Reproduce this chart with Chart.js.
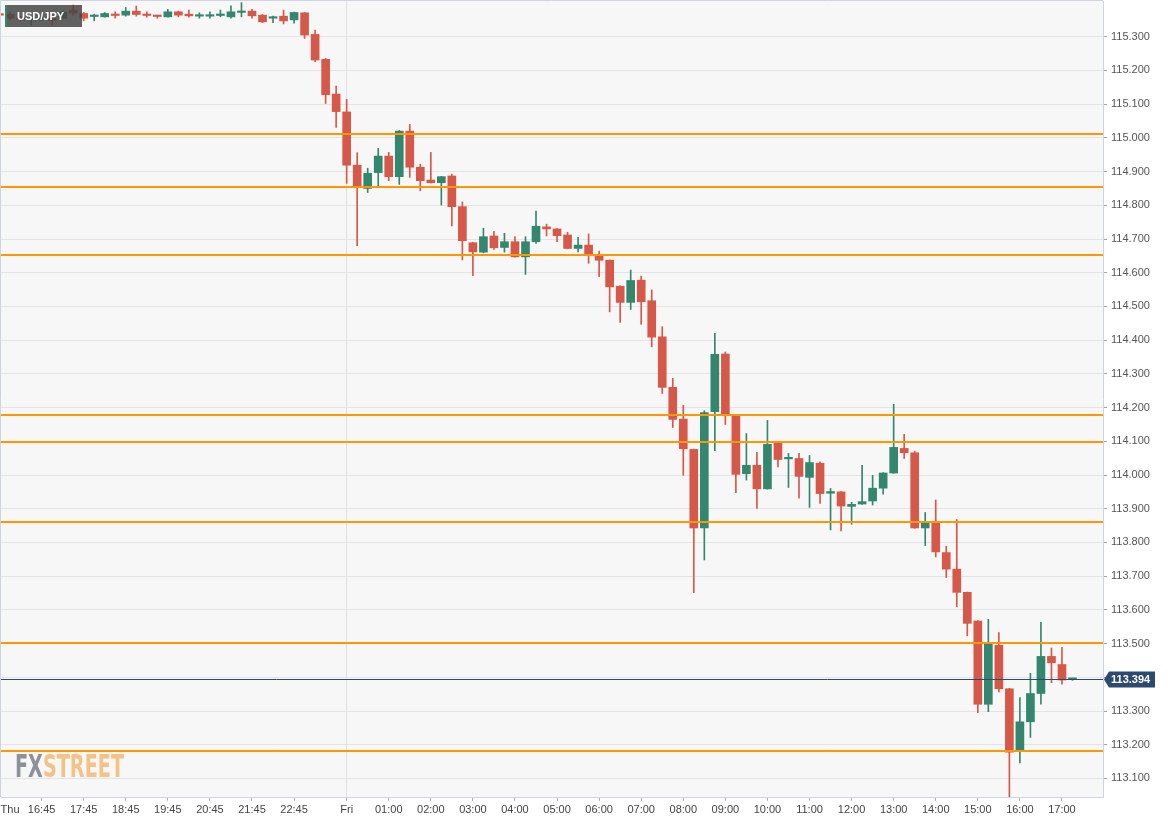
<!DOCTYPE html>
<html>
<head>
  <title>USD/JPY 15m</title>
  <script src="https://cdn.jsdelivr.net/npm/chart.js"></script>
  <style>
    html, body { margin: 0; padding: 0; background: #fff; overflow: hidden; }
  </style>
</head>
<body>
  <canvas id="myChart" width="1174" height="823"></canvas>

  <script>
    // 15-minute candles, slot 0 = Fri 00:00, slot -33 = Thu 15:45
    const firstSlot = -33;

    const open = [115.368, 115.367, 115.356, 115.350, 115.352, 115.355, 115.355, 115.379, 115.369, 115.360,
      115.359, 115.365, 115.364, 115.376, 115.365, 115.362, 115.359, 115.374, 115.367, 115.361,
      115.361, 115.363, 115.359, 115.372, 115.376, 115.364, 115.355, 115.361, 115.350, 115.371,
      115.307, 115.233, 115.130,
      115.077, 114.919, 114.850, 114.897, 114.946, 114.885, 115.020, 114.913, 114.875, 114.867,
      114.887, 114.796, 114.689, 114.661, 114.709, 114.675, 114.692, 114.647, 114.692, 114.736,
      114.730, 114.712, 114.672, 114.682, 114.652, 114.637, 114.560, 114.512, 114.578, 114.517,
      114.410, 114.260, 114.166, 114.076, 113.843, 114.188, 114.359, 114.179, 114.004, 114.029,
      113.959, 114.094, 114.048, 114.049, 113.993, 114.035, 113.946, 113.950, 113.907, 113.914,
      113.923, 113.961, 114.006, 114.079, 114.066, 113.843, 113.859, 113.770, 113.721, 113.652,
      113.567, 113.320, 113.495, 113.366, 113.182, 113.268, 113.352, 113.462, 113.438, 113.394];

    const high = [115.372, 115.373, 115.360, 115.357, 115.362, 115.358, 115.376, 115.394, 115.372, 115.367,
      115.372, 115.374, 115.387, 115.391, 115.374, 115.364, 115.381, 115.376, 115.379, 115.371,
      115.374, 115.379, 115.392, 115.401, 115.381, 115.366, 115.361, 115.379, 115.373, 115.372,
      115.320, 115.236, 115.154,
      115.114, 114.956, 114.910, 114.969, 114.957, 115.022, 115.040, 114.922, 114.957, 114.886,
      114.893, 114.810, 114.690, 114.732, 114.723, 114.717, 114.707, 114.707, 114.783, 114.744,
      114.731, 114.720, 114.705, 114.715, 114.664, 114.638, 114.561, 114.608, 114.590, 114.549,
      114.440, 114.287, 114.207, 114.077, 114.191, 114.420, 114.365, 114.180, 114.123, 114.067,
      114.162, 114.099, 114.064, 114.064, 114.058, 114.039, 113.960, 113.951, 113.919, 114.029,
      113.999, 114.007, 114.210, 114.121, 114.071, 113.889, 113.926, 113.789, 113.868, 113.653,
      113.568, 113.572, 113.533, 113.367, 113.340, 113.412, 113.563, 113.487, 113.489, 113.397];

    const low = [115.360, 115.350, 115.346, 115.334, 115.348, 115.334, 115.352, 115.364, 115.347, 115.347,
      115.358, 115.355, 115.361, 115.361, 115.358, 115.355, 115.358, 115.359, 115.358, 115.355,
      115.355, 115.359, 115.355, 115.359, 115.355, 115.342, 115.342, 115.338, 115.340, 115.295,
      115.226, 115.102, 115.031,
      114.865, 114.680, 114.838, 114.858, 114.873, 114.862, 114.883, 114.843, 114.866, 114.801,
      114.739, 114.638, 114.591, 114.659, 114.669, 114.661, 114.646, 114.595, 114.687, 114.709,
      114.692, 114.671, 114.662, 114.628, 114.588, 114.484, 114.453, 114.491, 114.447, 114.380,
      114.242, 114.141, 113.999, 113.651, 113.748, 114.072, 114.150, 113.948, 113.985, 113.901,
      113.958, 114.024, 113.963, 113.931, 113.904, 113.916, 113.837, 113.834, 113.854, 113.913,
      113.911, 113.943, 114.005, 114.049, 113.842, 113.791, 113.757, 113.696, 113.609, 113.523,
      113.295, 113.298, 113.357, 113.045, 113.146, 113.222, 113.320, 113.384, 113.380, 113.391];

    const close = [115.364, 115.355, 115.352, 115.355, 115.358, 115.349, 115.373, 115.370, 115.355, 115.362,
      115.369, 115.363, 115.376, 115.366, 115.363, 115.360, 115.374, 115.364, 115.362, 115.363,
      115.363, 115.365, 115.374, 115.375, 115.362, 115.344, 115.359, 115.347, 115.372, 115.305,
      115.231, 115.128, 115.078,
      114.919, 114.855, 114.895, 114.946, 114.885, 115.020, 114.913, 114.873, 114.867, 114.885,
      114.796, 114.695, 114.662, 114.707, 114.674, 114.692, 114.647, 114.692, 114.738, 114.730,
      114.710, 114.672, 114.682, 114.655, 114.637, 114.558, 114.512, 114.577, 114.514, 114.409,
      114.260, 114.165, 114.078, 113.843, 114.185, 114.358, 114.181, 114.002, 114.029, 113.959,
      114.091, 114.046, 114.051, 113.996, 114.037, 113.945, 113.951, 113.908, 113.913, 113.921,
      113.961, 114.006, 114.082, 114.066, 113.843, 113.859, 113.772, 113.721, 113.652, 113.560,
      113.320, 113.498, 113.366, 113.178, 113.268, 113.352, 113.462, 113.443, 113.392, 113.395];

    // support / resistance levels (orange) and last price
    const levels = [115.011, 114.855, 114.653, 114.178, 114.099, 113.861, 113.502, 113.182];
    const lastPrice = 113.394;

    // axis ticks
    const tickSlots = [-32, -29, -25, -21, -17, -13, -9, -5, 0, 4, 8, 12, 16, 20, 24, 28, 32, 36, 40, 44, 48, 52, 56, 60, 64, 68];
    const tickLabels = ['Thu', '16:45', '17:45', '18:45', '19:45', '20:45', '21:45', '22:45', 'Fri',
      '01:00', '02:00', '03:00', '04:00', '05:00', '06:00', '07:00', '08:00', '09:00', '10:00',
      '11:00', '12:00', '13:00', '14:00', '15:00', '16:00', '17:00'];
    const priceTicks = [113.1, 113.2, 113.3, 113.4, 113.5, 113.6, 113.7, 113.8, 113.9, 114.0, 114.1, 114.2,
      114.3, 114.4, 114.5, 114.6, 114.7, 114.8, 114.9, 115.0, 115.1, 115.2, 115.3];

    const UP = '#34876f';
    const DOWN = '#d65848';
    const colors = close.map((c, i) => c >= open[i] ? UP : DOWN);

    const bodies = open.map((o, i) => ({ x: firstSlot + i, y: [o, close[i]] }));
    const wicks = open.map((o, i) => ({ x: firstSlot + i, y: [low[i], high[i]] }));

    const frame = {
      id: 'frame',
      beforeDraw(chart) {
        const c = chart.ctx, a = chart.chartArea;
        c.save();
        c.fillStyle = '#ffffff';
        c.fillRect(0, 0, chart.width, chart.height);
        c.fillStyle = '#f7f7f7';
        c.fillRect(a.left, a.top, a.right - a.left, a.bottom - a.top);
        c.strokeStyle = '#cfd4e2';
        c.lineWidth = 1;
        c.beginPath();
        c.moveTo(a.left - 0.5, a.bottom);
        c.lineTo(a.left - 0.5, a.top - 0.5);
        c.lineTo(a.right, a.top - 0.5);
        c.stroke();
        c.restore();
      },
      beforeDatasetsDraw(chart) {
        const c = chart.ctx, a = chart.chartArea;
        c.save();
        c.font = 'bold 32px "Liberation Sans Narrow", "DejaVu Sans Condensed", sans-serif';
        c.textBaseline = 'alphabetic';
        const w1 = c.measureText('FX').width, w2 = c.measureText('STREET').width;
        const sx = 109 / (w1 + w2);
        c.translate(a.left + 14, 777);
        c.scale(sx, 1);
        c.fillStyle = '#8d9099';
        c.fillText('FX', 0, 0);
        c.fillStyle = '#f3c287';
        c.fillText('STREET', w1, 0);
        c.restore();
      },
      afterDatasetsDraw(chart) {
        const c = chart.ctx, a = chart.chartArea, y = chart.scales.y;
        c.save();
        c.beginPath();
        c.rect(a.left, a.top, a.right - a.left, a.bottom - a.top);
        c.clip();
        c.strokeStyle = '#ff9800';
        c.lineWidth = 2;
        levels.forEach(v => {
          const py = Math.round(y.getPixelForValue(v));
          c.beginPath();
          c.moveTo(a.left, py);
          c.lineTo(a.right, py);
          c.stroke();
        });
        const pp = Math.round(y.getPixelForValue(lastPrice)) + 0.5;
        c.strokeStyle = '#2c4a70';
        c.lineWidth = 1;
        c.beginPath();
        c.moveTo(a.left, pp);
        c.lineTo(a.right, pp);
        c.stroke();

        // symbol label
        c.fillStyle = 'rgba(70,70,70,0.85)';
        c.fillRect(5, 5, 77, 22);
        c.fillStyle = '#2e8b6f';
        c.fillRect(5, 5, 2, 22);
        c.fillStyle = '#ffffff';
        c.font = 'bold 11px "Liberation Sans", Arial, sans-serif';
        c.textBaseline = 'middle';
        c.fillText('USD/JPY', 17, 16.5);
        c.restore();
      },
      afterDraw(chart) {
        const c = chart.ctx, a = chart.chartArea, y = chart.scales.y;
        const py = Math.round(y.getPixelForValue(lastPrice)) + 0.5;
        c.save();
        c.fillStyle = '#2c4a70';
        c.beginPath();
        c.moveTo(a.right + 1, py);
        c.lineTo(a.right + 6, py - 8);
        c.lineTo(a.right + 52, py - 8);
        c.lineTo(a.right + 52, py + 8);
        c.lineTo(a.right + 6, py + 8);
        c.closePath();
        c.fill();
        c.fillStyle = '#ffffff';
        c.font = 'bold 11px "Liberation Sans", Arial, sans-serif';
        c.textBaseline = 'middle';
        c.fillText(lastPrice.toFixed(3), a.right + 8, py + 0.5);
        c.restore();
      }
    };

    const ctx = document.getElementById('myChart').getContext('2d');
    const chart = new Chart(ctx, {
      type: 'bar',
      data: {
        datasets: [{
          label: 'body',
          data: bodies,
          backgroundColor: colors,
          barThickness: 8,
          minBarLength: 1.5,
          borderSkipped: false,
          grouped: false,
          order: 0
        }, {
          label: 'wick',
          data: wicks,
          backgroundColor: colors,
          barThickness: 1,
          borderSkipped: false,
          grouped: false,
          order: 1
        }]
      },
      options: {
        responsive: false,
        animation: false,
        devicePixelRatio: 1,
        layout: { padding: { top: 1, left: 1, right: 0, bottom: 0 } },
        plugins: { legend: { display: false }, tooltip: { enabled: false } },
        scales: {
          x: {
            type: 'linear',
            min: -32.86,
            max: 71.9,
            offset: false,
            afterBuildTicks: s => { s.ticks = tickSlots.map(v => ({ value: v })); },
            afterFit: s => { s.height = 26; s.paddingLeft = 0; s.paddingRight = 0; },
            ticks: {
              autoSkip: false,
              maxRotation: 0,
              padding: 2,
              color: '#444',
              font: { family: '"Liberation Sans", Arial, sans-serif', size: 11 },
              callback: v => tickLabels[tickSlots.indexOf(v)]
            },
            grid: {
              offset: false,
              color: c => (c.tick && c.tick.value === 0) ? '#e0e0e0' : 'rgba(0,0,0,0)',
              tickColor: c => c.index === 0 ? 'rgba(0,0,0,0)' : '#b0b4c0',
              tickLength: 4
            },
            border: { color: '#cfd4e2' }
          },
          y: {
            position: 'right',
            min: 113.045,
            max: 115.406,
            afterBuildTicks: s => { s.ticks = priceTicks.map(v => ({ value: v })); },
            afterFit: s => { s.width = 71; s.paddingTop = 0; s.paddingBottom = 0; },
            ticks: {
              padding: 4,
              color: '#555',
              font: { family: '"Liberation Sans", Arial, sans-serif', size: 11 },
              callback: v => v.toFixed(3)
            },
            grid: {
              color: '#e4e4e4',
              tickColor: '#a0a4b0',
              tickLength: 4
            },
            border: { color: '#cfd4e2' }
          }
        }
      },
      plugins: [frame]
    });
  </script>
</body>
</html>
